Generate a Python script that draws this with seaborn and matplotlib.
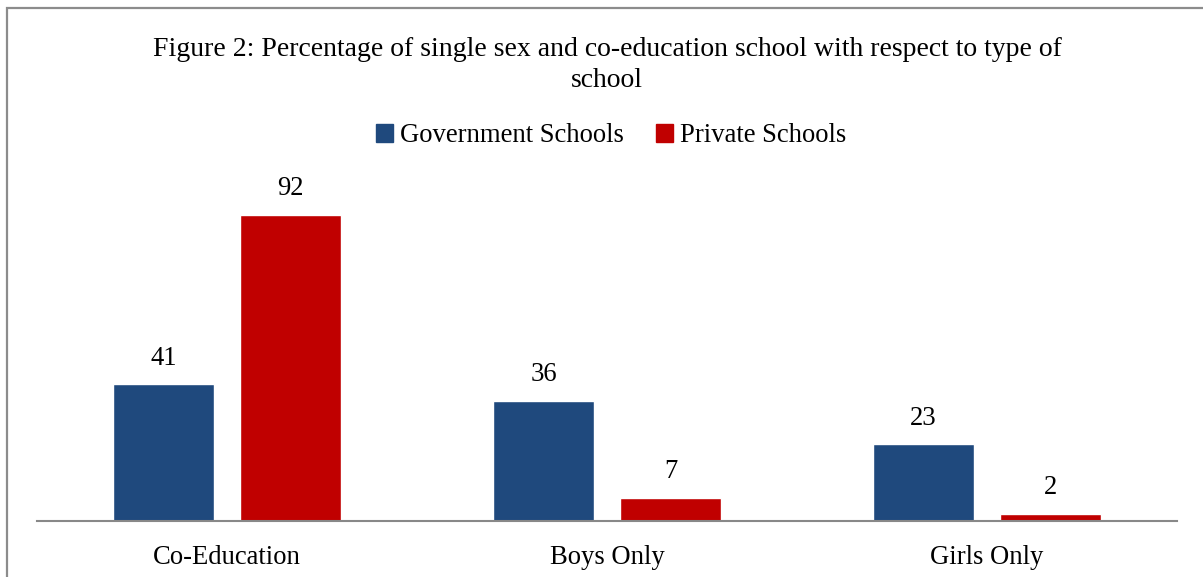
import pandas as pd
import matplotlib
matplotlib.use("Agg")
import matplotlib.pyplot as plt
import seaborn as sns
from matplotlib.patches import Rectangle

# chart values
categories = ["Co-Education", "Boys Only", "Girls Only"]
series_names = ["Government Schools", "Private Schools"]
government = [41, 36, 23]
private = [92, 7, 2]
colors = ["#1F497D", "#C00000"]

df = pd.DataFrame({
    "category": categories * 2,
    "type": [series_names[0]] * 3 + [series_names[1]] * 3,
    "value": government + private,
})

sns.set_style("white")
plt.rcParams["font.family"] = ["Liberation Serif", "DejaVu Serif"]
plt.rcParams["text.color"] = "black"
plt.rcParams["xtick.color"] = "black"
fs = 19.2

W, H = 1203, 577
fig = plt.figure(figsize=(W / 100, H / 100), dpi=100)
ax = fig.add_axes([37 / W, 56 / H, 1140 / W, 333 / H])

sns.barplot(data=df, x="category", y="value", hue="type", order=categories,
            hue_order=series_names, palette=colors, width=0.668, gap=0.2,
            saturation=1, ax=ax, legend=False)

ax.set_xlim(-0.5, 2.5)
ax.set_ylim(0, 100)
ax.set_xlabel("")
ax.set_ylabel("")
ax.set_yticks([])
for s in ["top", "right", "left"]:
    ax.spines[s].set_visible(False)
ax.spines["bottom"].set_color("#888888")
ax.spines["bottom"].set_linewidth(1.5)
ax.tick_params(axis="x", length=0, pad=17, labelsize=fs, labelcolor="black")

for cont in ax.containers:
    ax.bar_label(cont, fmt="%d", padding=10, fontsize=fs, color="black")

fig.text(607 / W, 1 - 65 / H,
         "Figure 2: Percentage of single sex and co-education school with respect to type of\nschool",
         ha="center", va="center", fontsize=20, linespacing=1.36, color="black")

handles = [plt.Rectangle((0, 0), 1, 1, color=c) for c in colors]
fig.legend(handles, series_names, loc="center", bbox_to_anchor=(611 / W, 1 - 136 / H),
           ncol=2, frameon=False, fontsize=fs, handlelength=0.65, handleheight=0.65,
           handletextpad=0.25, columnspacing=1.2, labelcolor="black")

fig.patches.append(Rectangle((7 / W, -0.1), 1.2, 1 - 8 / H + 0.1, transform=fig.transFigure,
                             fill=False, edgecolor="#8C8C8C", linewidth=1.6))

fig.savefig("out.png", dpi=100)
